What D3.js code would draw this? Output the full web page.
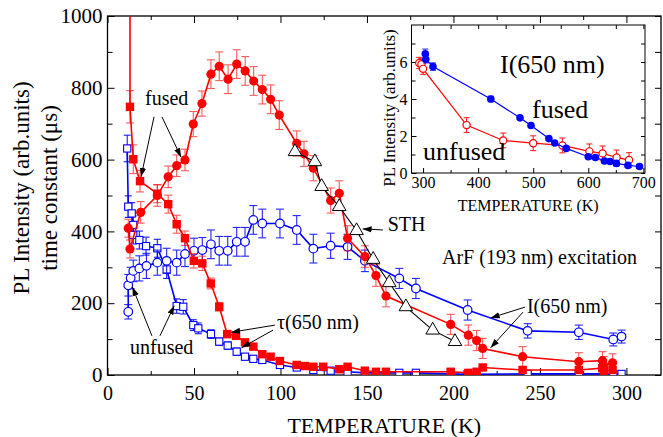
<!DOCTYPE html>
<html>
<head>
<meta charset="utf-8">
<script src="https://cdn.jsdelivr.net/npm/d3@7"></script>
<style>
  body { margin: 0; background: #fff; }
  svg { display: block; }
  svg text { font-family: "Liberation Serif", "Times New Roman", serif !important; }
</style>
</head>
<body>
<svg id="chart" width="663" height="437"></svg>
<script>
// main plot series: [T (K), value, error]
const fusedI = [
  [12, 409, 25], [13, 351, 25], [19.2, 453, 30], [28.8, 500, 30], [35.1, 552, 30],
  [40, 583, 30], [44.8, 599, 30], [49.6, 699, 35], [54.6, 756, 35], [59.8, 838, 40],
  [64.6, 860, 40], [69.7, 824, 40], [74.7, 866, 40], [79.6, 847, 40], [84.5, 819, 40],
  [89.5, 795, 40], [94.3, 768, 40], [99.3, 724, 40], [109.4, 645, 35], [113.6, 616, 35],
  [119, 576, 35], [129, 486, 35], [134, 506, 35], [138.8, 381, 35], [148.8, 330, 30],
  [155.2, 277, 30], [161, 220, 30], [198.4, 141, 28], [208.6, 111, 28], [213.4, 96, 28],
  [216.9, 74, 28], [240, 51, 28], [272.5, 37, 25], [286.2, 40, 25], [287, 26, 25], [292, 34, 25]
];
const fusedTau = [
  [13, 1500, 0], [13, 747, 45], [14.9, 601, 40], [18.8, 540, 30], [28.8, 505, 25],
  [35.1, 476, 25], [40, 420, 25], [44.8, 381, 20], [49.9, 318, 20], [54.8, 311, 20],
  [59.7, 255, 15], [64.6, 190, 12], [69.2, 114, 10], [74.3, 109, 10], [79.5, 91, 8],
  [84.3, 79, 8], [89.5, 58, 8], [94.3, 51, 8], [99.7, 39, 6], [109.4, 28, 6],
  [114.2, 25, 6], [119, 23, 6], [124.7, 23, 6], [134, 16, 6], [138.8, 23, 6],
  [148.8, 12, 5], [155.2, 9, 5], [161, 9, 5], [198.4, 9, 5], [208.6, 6, 5],
  [213.4, 9, 5], [216.9, 21, 5], [240, 14, 5], [272.5, 14, 5], [286, 19, 5],
  [287, 12, 5], [292, 14, 5]
];
const unfusedI = [
  [12, 176, 20], [12, 250, 30], [13.4, 270, 30], [14.9, 290, 30], [18.4, 297, 35],
  [22.5, 304, 35], [28.8, 313, 35], [34.2, 318, 35], [40, 313, 35], [44.8, 337, 35],
  [50, 346, 35], [54.8, 348, 35], [59.8, 364, 40], [64.6, 346, 40], [69.5, 346, 40],
  [74.7, 371, 40], [79.5, 371, 40], [84.3, 432, 40], [89.5, 422, 40], [99.7, 422, 40],
  [109.4, 404, 40], [119, 352, 40], [129, 360, 35], [138.8, 357, 35], [148.8, 318, 30],
  [168.7, 269, 28], [178.3, 241, 28], [208.2, 181, 28], [242.9, 123, 20], [272.5, 119, 20],
  [292.4, 99, 18], [297.2, 107, 18]
];
const unfusedTau = [
  [11.4, 631, 37], [12, 469, 30], [14, 450, 30], [14.9, 418, 25], [14.9, 390, 25],
  [18.4, 376, 25], [22.3, 359, 25], [28.8, 353, 25], [34.2, 294, 25], [40, 192, 20],
  [43.8, 190, 20], [49.6, 139, 15], [52.5, 130, 15], [59.8, 114, 12], [64.6, 93, 10],
  [69.5, 82, 10], [74.7, 65, 10], [79.5, 51, 8], [84.3, 45, 8], [89.5, 42, 8],
  [99.7, 28, 6], [109.4, 21, 6], [119, 14, 6], [129, 12, 6], [138.8, 9, 5],
  [148.8, 6, 5], [168.7, 6, 5], [178.3, 6, 5], [208.2, 2, 4], [242.9, 3, 4],
  [272.5, 3, 4], [292.4, 3, 4], [297.2, 3, 4]
];
const sth = [
  [108.4, 622], [119.9, 594], [123.8, 525], [134, 469], [144, 402],
  [153.6, 322], [162.9, 257], [172.5, 190], [188, 125], [200.9, 93]
];

// inset series: [T (K), intensity, error]
const insetFused = [
  [304, 6.45, 0.25], [305, 6.15, 0.2], [318, 5.75, 0.2], [423, 4.0, 0.15], [476, 2.98, 0.1],
  [496, 2.57, 0.1], [528.5, 1.86, 0.1], [539, 1.62, 0.1], [560, 1.33, 0.1], [600, 0.88, 0.1],
  [613, 0.84, 0.1], [629.5, 0.65, 0.1], [639.5, 0.62, 0.1], [651, 0.52, 0.15], [672, 0.41, 0.1],
  [693, 0.35, 0.1]
];
const insetUnfused = [
  [293, 5.95, 0.3], [297, 5.88, 0.3], [300, 5.63, 0.3], [379, 2.59, 0.4], [445.5, 1.76, 0.4],
  [500, 1.61, 0.4], [553, 1.49, 0.4], [602, 1.17, 0.4], [626, 1.06, 0.4], [651.5, 0.84, 0.4],
  [674, 0.7, 0.4]
];

// ticks
const xMajor = [0, 50, 100, 150, 200, 250, 300];
const xMinor = [25, 75, 125, 175, 225, 275];
const yMajor = [0, 200, 400, 600, 800, 1000];
const yMinor = [100, 300, 500, 700, 900];
const insetXTicks = [300, 400, 500, 600, 700];
const insetXMinor = [350, 450, 550, 650];
const insetYTicks = [0, 2, 4, 6];
const insetYMinor = [1, 3, 5, 7];

// text labels (data coordinates) and arrows [from T, from V, to T, to V]
const mainLabels = [
  { text: 'fused', t: 21.7, v: 752 },
  { text: 'unfused', t: 13, v: 58 },
  { text: 'τ(650 nm)', t: 98, v: 128 },
  { text: 'STH', t: 162, v: 401 },
  { text: 'ArF (193 nm) excitation', t: 193.4, v: 309 },
  { text: 'I(650 nm)', t: 242.5, v: 173 }
];
const mainArrows = [
  [26.9, 719, 19.4, 552], [31.5, 719, 42.5, 607],
  [25.7, 109, 14.4, 245], [30.3, 109, 38.6, 193],
  [96.8, 139, 71.5, 119], [95.7, 125, 77.5, 76],
  [159.2, 404, 147.5, 407],
  [241.3, 189, 221.5, 159], [240.2, 175, 221.5, 76]
];
const insetLabels = [
  { text: 'I(650 nm)', t: 439.7, v: 5.41 },
  { text: 'fused', t: 497.8, v: 2.97 },
  { text: 'unfused', t: 299.9, v: 0.70 }
];

const RED = '#ff0000';
const BLUE = '#0000ff';

const svg = d3.select('#chart');

const x = d3.scaleLinear().domain([0, 320]).range([107.5, 661]);
const y = d3.scaleLinear().domain([0, 1000]).range([375, 16]);

svg.append('defs').append('clipPath').attr('id', 'clipMain')
  .append('rect')
  .attr('x', x.range()[0]).attr('y', y.range()[1])
  .attr('width', x.range()[1] - x.range()[0])
  .attr('height', y.range()[0] - y.range()[1]);

svg.select('defs').append('marker')
  .attr('id', 'arrow')
  .attr('viewBox', '0 0 10 10')
  .attr('refX', 10).attr('refY', 5)
  .attr('markerWidth', 9).attr('markerHeight', 9)
  .attr('markerUnits', 'userSpaceOnUse')
  .attr('orient', 'auto')
  .append('path')
  .attr('d', 'M0,1.5 L10,5 L0,8.5 Z')
  .attr('fill', '#000');

// axes helper: ticks pointing inward, no domain line
function drawAxis(g, axis) {
  g.call(axis);
  g.attr('font-family', null);
  g.select('.domain').remove();
  g.selectAll('.tick line').attr('stroke', '#000').attr('stroke-width', 1);
  g.selectAll('.tick text').attr('fill', '#000');
}

const axes = svg.append('g');
drawAxis(axes.append('g').attr('class', 'xax').attr('transform', `translate(0,${y.range()[0]})`),
  d3.axisBottom(x).tickValues(xMajor).tickSize(-7).tickPadding(11).tickFormat(d3.format('d')));
drawAxis(axes.append('g').attr('transform', `translate(0,${y.range()[0]})`),
  d3.axisBottom(x).tickValues(xMinor).tickSize(-4).tickFormat(''));
drawAxis(axes.append('g').attr('transform', `translate(0,${y.range()[1]})`),
  d3.axisTop(x).tickValues(xMajor).tickSize(-7).tickFormat(''));
drawAxis(axes.append('g').attr('transform', `translate(0,${y.range()[1]})`),
  d3.axisTop(x).tickValues(xMinor).tickSize(-4).tickFormat(''));
drawAxis(axes.append('g').attr('class', 'yax').attr('transform', `translate(${x.range()[0]},0)`),
  d3.axisLeft(y).tickValues(yMajor).tickSize(-7).tickPadding(5).tickFormat(d3.format('d')));
drawAxis(axes.append('g').attr('transform', `translate(${x.range()[0]},0)`),
  d3.axisLeft(y).tickValues(yMinor).tickSize(-5).tickFormat(''));
drawAxis(axes.append('g').attr('transform', `translate(${x.range()[1]},0)`),
  d3.axisRight(y).tickValues(yMajor.concat(yMinor)).tickSize(-6).tickFormat(''));
axes.selectAll('.xax .tick text').attr('font-size', 20);
axes.selectAll('.yax .tick text').attr('font-size', 21);

svg.append('rect')
  .attr('x', x.range()[0]).attr('y', y.range()[1])
  .attr('width', x.range()[1] - x.range()[0])
  .attr('height', y.range()[0] - y.range()[1])
  .attr('fill', 'none').attr('stroke', '#000').attr('stroke-width', 1.3);

// axis titles
svg.append('text')
  .attr('x', (x.range()[0] + x.range()[1]) / 2)
  .attr('y', 433)
  .attr('text-anchor', 'middle')
  .attr('font-size', 22)
  .text('TEMPERATURE (K)');

const yTitle = svg.append('text')
  .attr('transform', 'translate(0,188) rotate(-90)')
  .attr('text-anchor', 'middle')
  .attr('font-size', 23);
yTitle.append('tspan').attr('x', 0).attr('y', 29).text('PL Intensity (arb.units)');
yTitle.append('tspan').attr('x', 0).attr('y', 57).text('time constant (μs)');

// series drawing
const plot = svg.append('g').attr('clip-path', 'url(#clipMain)');

function drawSeries(g, data, sx, sy, opt) {
  const line = d3.line().x(d => sx(d[0])).y(d => sy(d[1]));
  g.append('path')
    .datum(data)
    .attr('fill', 'none')
    .attr('stroke', opt.color)
    .attr('stroke-width', opt.lineWidth)
    .attr('d', line);

  const eb = g.append('g')
    .attr('stroke', opt.color)
    .attr('stroke-width', 1.1)
    .attr('opacity', opt.errOpacity);
  data.filter(d => d[2] > 0).forEach(d => {
    const cx = sx(d[0]);
    const y0 = sy(d[1] - d[2]);
    const y1 = sy(d[1] + d[2]);
    eb.append('line').attr('x1', cx).attr('x2', cx).attr('y1', y0).attr('y2', y1);
    eb.append('line').attr('x1', cx - opt.cap).attr('x2', cx + opt.cap).attr('y1', y0).attr('y2', y0);
    eb.append('line').attr('x1', cx - opt.cap).attr('x2', cx + opt.cap).attr('y1', y1).attr('y2', y1);
  });

  const pts = g.append('g');
  if (opt.shape === 'circle') {
    pts.selectAll('circle')
      .data(data)
      .enter()
      .append('circle')
        .attr('cx', d => sx(d[0]))
        .attr('cy', d => sy(d[1]))
        .attr('r', opt.size)
        .attr('fill', opt.fill)
        .attr('stroke', opt.color)
        .attr('stroke-width', opt.open ? 1.2 : 0);
  } else {
    pts.selectAll('rect')
      .data(data)
      .enter()
      .append('rect')
        .attr('x', d => sx(d[0]) - opt.size)
        .attr('y', d => sy(d[1]) - opt.size)
        .attr('width', opt.size * 2)
        .attr('height', opt.size * 2)
        .attr('fill', opt.fill)
        .attr('stroke', opt.color)
        .attr('stroke-width', opt.open ? 1.1 : 0);
  }
}

drawSeries(plot.append('g'), unfusedTau, x, y,
  { color: BLUE, fill: '#fff', open: true, shape: 'square', size: 3.6, lineWidth: 1.6, cap: 3.5, errOpacity: 0.9 });
drawSeries(plot.append('g'), unfusedI, x, y,
  { color: BLUE, fill: '#fff', open: true, shape: 'circle', size: 4.3, lineWidth: 1.6, cap: 4, errOpacity: 0.85 });
drawSeries(plot.append('g'), fusedTau, x, y,
  { color: RED, fill: RED, open: false, shape: 'square', size: 4.2, lineWidth: 1.6, cap: 4, errOpacity: 0.65 });
drawSeries(plot.append('g'), fusedI, x, y,
  { color: RED, fill: RED, open: false, shape: 'circle', size: 4.6, lineWidth: 1.6, cap: 4, errOpacity: 0.65 });

// STH triangles
const sthG = plot.append('g');
sthG.append('path')
  .datum(sth)
  .attr('fill', 'none')
  .attr('stroke', '#000')
  .attr('stroke-width', 1.1)
  .attr('d', d3.line().x(d => x(d[0])).y(d => y(d[1])));
sthG.selectAll('path.tri')
  .data(sth)
  .enter()
  .append('path')
    .attr('class', 'tri')
    .attr('transform', d => `translate(${x(d[0])},${y(d[1])})`)
    .attr('d', d3.symbol(d3.symbolTriangle, 80))
    .attr('fill', '#fff')
    .attr('stroke', '#000')
    .attr('stroke-width', 1);

// annotations
svg.append('g').selectAll('text')
  .data(mainLabels)
  .enter()
  .append('text')
    .attr('x', d => x(d.t))
    .attr('y', d => y(d.v))
    .attr('font-size', 20)
    .text(d => d.text);

svg.append('g').selectAll('line')
  .data(mainArrows)
  .enter()
  .append('line')
    .attr('x1', d => x(d[0])).attr('y1', d => y(d[1]))
    .attr('x2', d => x(d[2])).attr('y2', d => y(d[3]))
    .attr('stroke', '#000')
    .attr('stroke-width', 1)
    .attr('marker-end', 'url(#arrow)');

// ---------- inset ----------
const ix = d3.scaleLinear().domain([279, 703]).range([411.5, 645]);
const iy = d3.scaleLinear().domain([0, 8]).range([173, 25]);

const inset = svg.append('g');
inset.append('rect')
  .attr('x', ix.range()[0]).attr('y', iy.range()[1])
  .attr('width', ix.range()[1] - ix.range()[0])
  .attr('height', iy.range()[0] - iy.range()[1])
  .attr('fill', '#fff');

const insetAxes = inset.append('g');
drawAxis(insetAxes.append('g').attr('transform', `translate(0,${iy.range()[0]})`),
  d3.axisBottom(ix).tickValues(insetXTicks).tickSize(-5).tickPadding(4).tickFormat(d3.format('d')));
drawAxis(insetAxes.append('g').attr('transform', `translate(0,${iy.range()[0]})`),
  d3.axisBottom(ix).tickValues(insetXMinor).tickSize(-3).tickFormat(''));
drawAxis(insetAxes.append('g').attr('transform', `translate(0,${iy.range()[1]})`),
  d3.axisTop(ix).tickValues(insetXTicks.concat(insetXMinor)).tickSize(-4).tickFormat(''));
drawAxis(insetAxes.append('g').attr('transform', `translate(${ix.range()[0]},0)`),
  d3.axisLeft(iy).tickValues(insetYTicks).tickSize(-5).tickPadding(4).tickFormat(d3.format('d')));
drawAxis(insetAxes.append('g').attr('transform', `translate(${ix.range()[0]},0)`),
  d3.axisLeft(iy).tickValues(insetYMinor).tickSize(-4).tickFormat(''));
drawAxis(insetAxes.append('g').attr('transform', `translate(${ix.range()[1]},0)`),
  d3.axisRight(iy).tickValues(insetYTicks.concat(insetYMinor)).tickSize(-4).tickFormat(''));
insetAxes.selectAll('.tick text').attr('font-size', 16);

drawSeries(inset.append('g'), insetUnfused, ix, iy,
  { color: RED, fill: '#fff', open: true, shape: 'circle', size: 3.6, lineWidth: 1.2, cap: 3, errOpacity: 0.85 });
drawSeries(inset.append('g'), insetFused, ix, iy,
  { color: BLUE, fill: BLUE, open: false, shape: 'circle', size: 3.8, lineWidth: 1.2, cap: 3, errOpacity: 0.8 });

inset.append('rect')
  .attr('x', ix.range()[0]).attr('y', iy.range()[1])
  .attr('width', ix.range()[1] - ix.range()[0])
  .attr('height', iy.range()[0] - iy.range()[1])
  .attr('fill', 'none').attr('stroke', '#000').attr('stroke-width', 1);

inset.selectAll('text.lbl')
  .data(insetLabels)
  .enter()
  .append('text')
    .attr('class', 'lbl')
    .attr('x', d => ix(d.t))
    .attr('y', d => iy(d.v))
    .attr('font-size', 26)
    .text(d => d.text);

inset.append('text')
  .attr('x', (ix.range()[0] + ix.range()[1]) / 2)
  .attr('y', 211)
  .attr('text-anchor', 'middle')
  .attr('font-size', 16)
  .text('TEMPERATURE (K)');

inset.append('text')
  .attr('transform', `translate(${ix.range()[0] - 17},108) rotate(-90)`)
  .attr('text-anchor', 'middle')
  .attr('font-size', 17)
  .text('PL Intensity (arb.units)');
</script>
</body>
</html>
